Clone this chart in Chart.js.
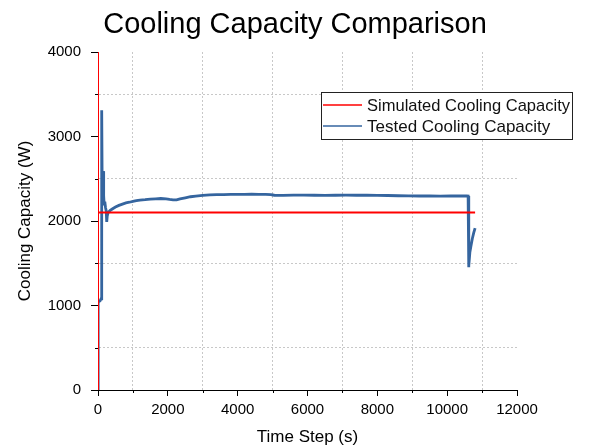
<!DOCTYPE html>
<html>
<head>
<meta charset="utf-8">
<script src="https://cdn.jsdelivr.net/npm/chart.js@4/dist/chart.umd.min.js"></script>
<style>
  html, body { margin: 0; padding: 0; background: #fff; }
  #c { display: block; }
</style>
</head>
<body>
<canvas id="c" width="590" height="448"></canvas>
<script>
// ---- data ----
const chartTitle = "Cooling Capacity Comparison";
const xAxisTitle = "Time Step (s)";
const yAxisTitle = "Cooling Capacity (W)";
const seriesNames = ["Simulated Cooling Capacity", "Tested Cooling Capacity"];

const simTime  = [0, 0, 0, 10800];
const simValue = [0, 4000, 2100, 2100];

const testedTime = [0, 5, 60, 90, 100, 112, 122, 135, 150, 162, 175, 195, 215, 235, 250, 265, 290, 350, 420, 500, 600, 700, 800, 900, 1000, 1100, 1200, 1350, 1500, 1650, 1800, 1950, 2050, 2150, 2250, 2350, 2500, 2650, 2800, 3000, 3200, 3400, 3600, 3800, 4000, 4200, 4400, 4600, 4800, 4950, 5050, 5300, 5600, 5900, 6200, 6500, 6800, 7100, 7400, 7700, 8000, 8300, 8600, 8900, 9200, 9500, 9800, 10100, 10400, 10560, 10600, 10612, 10625, 10650, 10680, 10720, 10760, 10800];
const testedValue = [0, 1040, 1055, 1080, 3300, 3310, 2250, 2200, 2590, 2300, 2200, 2230, 2160, 2120, 1990, 2060, 2100, 2125, 2145, 2165, 2185, 2200, 2215, 2222, 2232, 2240, 2248, 2252, 2258, 2262, 2266, 2262, 2255, 2250, 2250, 2262, 2275, 2287, 2295, 2303, 2308, 2311, 2312, 2314, 2316, 2315, 2317, 2316, 2315, 2313, 2305, 2304, 2307, 2306, 2305, 2304, 2305, 2306, 2305, 2306, 2304, 2302, 2299, 2297, 2296, 2296, 2295, 2296, 2297, 2296, 2295, 1452, 1470, 1630, 1700, 1790, 1860, 1915];

const xMin = 0, xMax = 12000, xStep = 1000, xLabelStep = 2000;
const yMin = 0, yMax = 4000, yStep = 500, yLabelStep = 1000;

const seriesColors = ['#ff0000', '#35659f'];

// ---- build ----
const toPoints = (xs, ys) => xs.map((x, i) => ({ x: x, y: ys[i] }));
const FONT = '"Liberation Sans", Arial, Helvetica, sans-serif';

const minorTicks = {
  id: 'minorTicks',
  afterDatasetsDraw(chart) {
    const ctx = chart.ctx;
    const xs = chart.scales.x, ys = chart.scales.y;
    ctx.save();
    ctx.strokeStyle = '#000';
    ctx.lineWidth = 1;
    ctx.beginPath();
    for (let v = xMin + xStep; v < xMax; v += xLabelStep) {
      const px = Math.round(xs.getPixelForValue(v)) + 0.5;
      ctx.moveTo(px, ys.bottom);
      ctx.lineTo(px, ys.bottom + 3);
    }
    for (let v = yMin + yStep; v < yMax; v += yLabelStep) {
      const py = Math.round(ys.getPixelForValue(v)) + 0.5;
      ctx.moveTo(xs.left, py);
      ctx.lineTo(xs.left - 3, py);
    }
    ctx.stroke();
    ctx.restore();
  }
};

const boxLegend = {
  id: 'boxLegend',
  afterDraw(chart) {
    const ctx = chart.ctx;
    const left = 321.5, top = 92.5, w = 251, h = 47;
    ctx.save();
    ctx.fillStyle = '#fff';
    ctx.fillRect(left, top, w, h);
    ctx.strokeStyle = '#222';
    ctx.lineWidth = 1;
    ctx.strokeRect(left, top, w, h);
    const rows = [105, 126];
    chart.data.datasets.forEach((ds, i) => {
      ctx.strokeStyle = seriesColors[i];
      ctx.lineWidth = 1.6;
      ctx.beginPath();
      ctx.moveTo(323, rows[i]);
      ctx.lineTo(362, rows[i]);
      ctx.stroke();
      ctx.fillStyle = '#111';
      ctx.font = '17px ' + FONT;
      ctx.textBaseline = 'middle';
      ctx.textAlign = 'left';
      ctx.fillText(ds.label, 367, rows[i] + 1.5, 203);
    });
    ctx.restore();
  }
};

new Chart(document.getElementById('c'), {
  type: 'line',
  data: {
    datasets: [
      {
        label: seriesNames[0],
        data: toPoints(simTime, simValue),
        borderColor: seriesColors[0],
        backgroundColor: seriesColors[0],
        borderWidth: 2,
        pointRadius: 0,
        tension: 0,
        order: 0
      },
      {
        label: seriesNames[1],
        data: toPoints(testedTime, testedValue),
        borderColor: seriesColors[1],
        backgroundColor: seriesColors[1],
        borderWidth: 2.8,
        pointRadius: 0,
        tension: 0,
        order: 1
      }
    ]
  },
  options: {
    responsive: false,
    animation: false,
    devicePixelRatio: 1,
    layout: { padding: 0 },
    plugins: {
      legend: { display: false },
      tooltip: { enabled: false },
      title: {
        display: true,
        text: chartTitle,
        color: '#000',
        font: { family: FONT, size: 29, weight: 'normal', lineHeight: 1.2 },
        padding: { top: 8, bottom: 9.2 }
      }
    },
    scales: {
      x: {
        type: 'linear',
        min: xMin, max: xMax,
        afterFit(scale) { scale.height = 58; scale.paddingRight = 73; },
        ticks: {
          stepSize: xStep,
          autoSkip: false,
          maxRotation: 0,
          color: '#000',
          padding: 5,
          font: { family: FONT, size: 15 },
          callback: v => (v % xLabelStep === 0 ? String(v) : '')
        },
        grid: {
          drawOnChartArea: true,
          drawTicks: true,
          tickLength: 6,
          lineWidth: 1,
          color: c => (c.tick && c.tick.value % xLabelStep !== 0 ? '#c8c8c8' : 'rgba(0,0,0,0)'),
          tickColor: c => (c.tick && c.tick.value % xLabelStep === 0 ? '#000' : 'rgba(0,0,0,0)')
        },
        border: { display: true, color: '#000', width: 1, dash: [2, 2] },
        title: {
          display: true,
          text: xAxisTitle,
          color: '#000',
          font: { family: FONT, size: 17, lineHeight: 1.2 },
          padding: { top: 0, bottom: 0 }
        }
      },
      y: {
        type: 'linear',
        min: yMin, max: yMax,
        afterFit(scale) { scale.width = 98; },
        ticks: {
          stepSize: yStep,
          autoSkip: false,
          color: '#000',
          padding: 10,
          font: { family: FONT, size: 15 },
          callback: v => (v % yLabelStep === 0 ? String(v) : '')
        },
        grid: {
          drawOnChartArea: true,
          drawTicks: true,
          tickLength: 7,
          lineWidth: 1,
          color: c => (c.tick && c.tick.value % yLabelStep !== 0 ? '#c8c8c8' : 'rgba(0,0,0,0)'),
          tickColor: c => (c.tick && c.tick.value % yLabelStep === 0 ? '#000' : 'rgba(0,0,0,0)')
        },
        border: { display: true, color: '#000', width: 1, dash: [2, 2] },
        title: {
          display: true,
          text: yAxisTitle,
          color: '#000',
          font: { family: FONT, size: 17, lineHeight: 1.2 },
          padding: { top: 15, bottom: 0 }
        }
      }
    }
  },
  plugins: [minorTicks, boxLegend]
});
</script>
</body>
</html>
